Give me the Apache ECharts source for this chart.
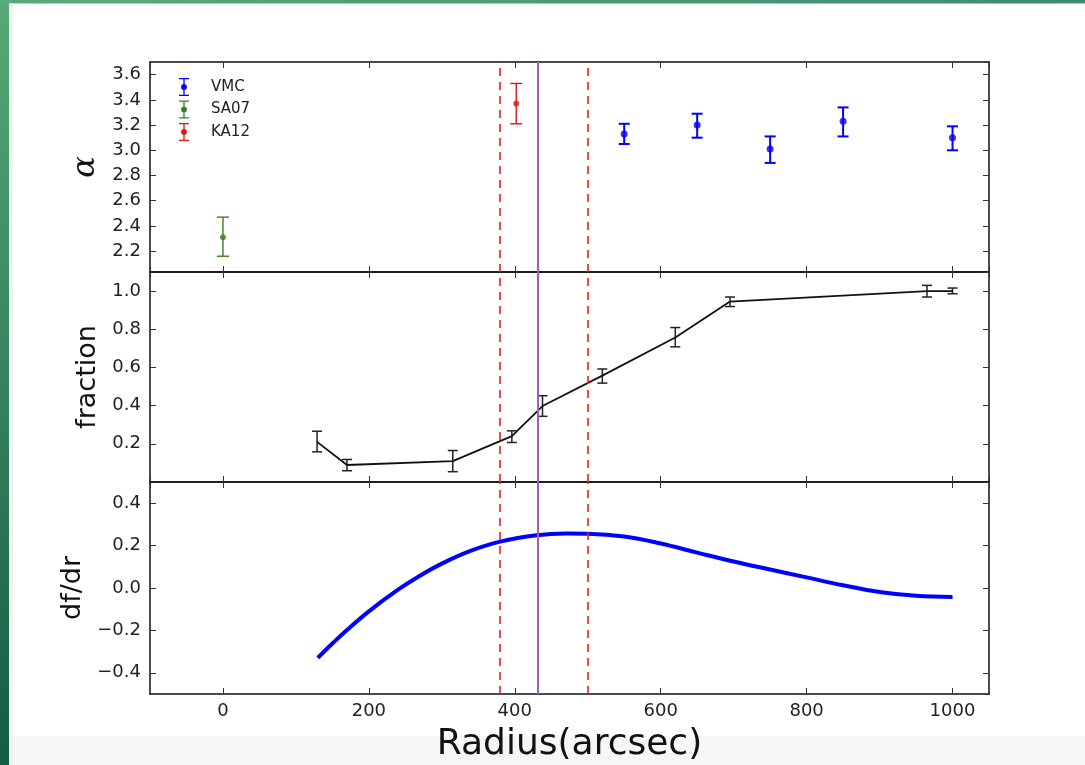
<!DOCTYPE html>
<html>
<head>
<meta charset="utf-8">
<script src="https://cdn.jsdelivr.net/npm/echarts@6/dist/echarts.min.js"></script>
<style>
html, body { margin: 0; padding: 0; background: #fff; }
#chart { width: 1085px; height: 765px; }
</style>
</head>
<body>
<div id="chart"></div>
<script>
// top panel: power-law slope alpha with error bars
var vmcR = [550, 650, 750, 850, 1000];
var vmcAlpha = [3.13, 3.20, 3.01, 3.23, 3.10];
var vmcLow = [3.05, 3.10, 2.90, 3.11, 3.00];
var vmcHigh = [3.21, 3.29, 3.11, 3.34, 3.19];

var sa07R = [0];
var sa07Alpha = [2.31];
var sa07Low = [2.16];
var sa07High = [2.47];

var ka12R = [402];
var ka12Alpha = [3.37];
var ka12Low = [3.21];
var ka12High = [3.53];

// middle panel: fraction
var fracR = [129, 170, 315, 396, 438, 520, 620, 695, 965, 1000];
var frac = [0.21, 0.089, 0.109, 0.24, 0.398, 0.557, 0.757, 0.945, 1.0, 1.0];
var fracLow = [0.158, 0.059, 0.054, 0.207, 0.344, 0.518, 0.708, 0.919, 0.969, 0.986];
var fracHigh = [0.266, 0.118, 0.165, 0.268, 0.452, 0.592, 0.809, 0.969, 1.03, 1.016];

// bottom panel: df/dr
var curveR = [130, 150, 170, 200, 240, 270, 300, 340, 380, 430, 470, 500, 550, 600, 650, 700, 750, 800, 850, 900, 950, 1000];
var dfdr = [-0.33, -0.262, -0.198, -0.11, -0.008, 0.058, 0.115, 0.176, 0.219, 0.249, 0.257, 0.256, 0.243, 0.21, 0.167, 0.125, 0.087, 0.05, 0.013, -0.019, -0.037, -0.042];

// vertical marker lines
var dashedR = [380, 500];
var centreR = [431];

var FONT = 'DejaVu Sans';

function zip(a, b) {
    return a.map(function (v, i) { return [v, b[i]]; });
}
function zip3(a, b, c) {
    return a.map(function (v, i) { return [v, b[i], c[i]]; });
}

function errorBars(color, width, cap) {
    return function (params, api) {
        var x = api.value(0);
        var lo = api.coord([x, api.value(1)]);
        var hi = api.coord([x, api.value(2)]);
        function st() { return { stroke: color, lineWidth: width }; }
        return {
            type: 'group',
            children: [
                { type: 'line', shape: { x1: lo[0], y1: lo[1], x2: hi[0], y2: hi[1] }, style: st() },
                { type: 'line', shape: { x1: hi[0] - cap, y1: hi[1], x2: hi[0] + cap, y2: hi[1] }, style: st() },
                { type: 'line', shape: { x1: lo[0] - cap, y1: lo[1], x2: lo[0] + cap, y2: lo[1] }, style: st() }
            ]
        };
    };
}

function vLines() {
    var d = dashedR.map(function (r) {
        return { xAxis: r, lineStyle: { color: '#e8201e', type: [8, 6], width: 1.6 } };
    });
    centreR.forEach(function (r) {
        d.push({ xAxis: r, lineStyle: { color: '#a05cc4', type: 'solid', width: 2 } });
    });
    return { silent: true, symbol: ['none', 'none'], label: { show: false }, animation: false, data: d };
}

function fmtY(v) {
    return v.toFixed(1).replace('-', '\u2212');
}
function fmtX(v) {
    return String(Math.round(v));
}

function xAx(g, pos, labels) {
    return {
        type: 'value', gridIndex: g, position: pos, min: -100, max: 1050, splitNumber: 5,
        splitLine: { show: false },
        axisLine: { onZero: false, lineStyle: { color: '#111', width: 1.5 } },
        axisTick: { inside: true, length: 6, lineStyle: { color: '#333' } },
        axisLabel: { show: labels, showMinLabel: false, showMaxLabel: false, margin: 8,
            fontFamily: FONT, fontSize: 18, color: '#222', formatter: fmtX }
    };
}

function yAx(g, pos, min, max, labels, extra) {
    var ax = {
        type: 'value', gridIndex: g, position: pos, min: min, max: max,
        splitLine: { show: false },
        axisLine: { onZero: false, lineStyle: { color: '#111', width: 1.5 } },
        axisTick: { inside: true, length: 6, lineStyle: { color: '#333' } },
        axisLabel: { show: labels, showMinLabel: false, showMaxLabel: false, margin: 9,
            fontFamily: FONT, fontSize: 18, color: '#222', formatter: fmtY }
    };
    for (var k in extra) ax[k] = extra[k];
    return ax;
}

// legend glyph: error bar with caps and a dot
var errIcon = 'path://M0,0H10V1.3H0Z M4.35,1.3H5.65V16.7H4.35Z M0,16.7H10V18H0Z M2.1,9A2.9,2.9 0 1 1 7.9,9A2.9,2.9 0 1 1 2.1,9Z';

var option = {
    backgroundColor: '#ffffff',
    animation: false,
    graphic: [
        { type: 'rect', z: -1, shape: { x: 0, y: 0, width: 9, height: 765 },
          style: { fill: new echarts.graphic.LinearGradient(0, 0, 0, 1, [
              { offset: 0, color: '#58a976' }, { offset: 1, color: '#135c45' }]) } },
        { type: 'rect', z: -1, shape: { x: 0, y: 0, width: 1085, height: 3.5 },
          style: { fill: new echarts.graphic.LinearGradient(0, 0, 1, 0, [
              { offset: 0, color: '#5aab78' }, { offset: 1, color: '#3a8e6e' }]) } },
        { type: 'rect', z: -1, shape: { x: 9, y: 3.5, width: 4, height: 762 }, style: { fill: '#f1f1f1' } },
        { type: 'rect', z: -1, shape: { x: 13, y: 736, width: 1072, height: 29 }, style: { fill: '#f6f6f6' } }
    ],
    grid: [
        { left: 150, top: 62, width: 839, height: 210 },
        { left: 150, top: 272, width: 839, height: 210 },
        { left: 150, top: 482, width: 839, height: 212 }
    ],
    legend: {
        orient: 'vertical', left: 174, top: 73,
        itemWidth: 10, itemHeight: 18, itemGap: 4.5,
        textStyle: { fontFamily: FONT, fontSize: 15, color: '#222', padding: [0, 0, 0, 17] },
        data: [
            { name: 'VMC', icon: errIcon },
            { name: 'SA07', icon: errIcon },
            { name: 'KA12', icon: errIcon }
        ]
    },
    xAxis: [
        xAx(0, 'bottom', false),
        xAx(1, 'bottom', false),
        (function () {
            var a = xAx(2, 'bottom', true);
            a.name = 'Radius(arcsec)';
            a.nameLocation = 'middle';
            a.nameGap = 33;
            a.nameTextStyle = { fontFamily: FONT, fontSize: 36, color: '#111' };
            return a;
        })(),
        xAx(0, 'top', false),
        xAx(1, 'top', false),
        xAx(2, 'top', false)
    ],
    yAxis: [
        yAx(0, 'left', 2.035, 3.7, true, {
            splitNumber: 8, name: '\u03B1', nameLocation: 'middle', nameGap: 48, nameRotate: 90,
            nameTextStyle: { fontFamily: 'DejaVu Serif', fontStyle: 'italic', fontSize: 32, color: '#111' }
        }),
        yAx(1, 'left', 0, 1.1, true, {
            interval: 0.2, name: 'fraction', nameLocation: 'middle', nameGap: 47, nameRotate: 90,
            nameTextStyle: { fontFamily: FONT, fontSize: 27, color: '#111' }
        }),
        yAx(2, 'left', -0.5, 0.5, true, {
            splitNumber: 5, name: 'df/dr', nameLocation: 'middle', nameGap: 61, nameRotate: 90,
            nameTextStyle: { fontFamily: FONT, fontSize: 27, color: '#111' }
        }),
        yAx(0, 'right', 2.035, 3.7, false, { splitNumber: 8 }),
        yAx(1, 'right', 0, 1.1, false, { interval: 0.2 }),
        yAx(2, 'right', -0.5, 0.5, false, { splitNumber: 5 })
    ],
    series: [
        // top panel
        { type: 'custom', name: 'VMC', xAxisIndex: 0, yAxisIndex: 0, silent: true, z: 3,
          itemStyle: { color: '#0000ff' }, encode: { x: 0, y: [1, 2] },
          renderItem: errorBars('#0000ff', 2, 5.5), data: zip3(vmcR, vmcLow, vmcHigh) },
        { type: 'custom', name: 'SA07', xAxisIndex: 0, yAxisIndex: 0, silent: true, z: 3,
          itemStyle: { color: '#3b7d22' }, encode: { x: 0, y: [1, 2] },
          renderItem: errorBars('#3b7d22', 1.4, 6), data: zip3(sa07R, sa07Low, sa07High) },
        { type: 'custom', name: 'KA12', xAxisIndex: 0, yAxisIndex: 0, silent: true, z: 3,
          itemStyle: { color: '#e01414' }, encode: { x: 0, y: [1, 2] },
          renderItem: errorBars('#e01414', 1.4, 6), data: zip3(ka12R, ka12Low, ka12High) },
        { type: 'scatter', name: 'VMC', xAxisIndex: 0, yAxisIndex: 0, z: 4, symbolSize: 7,
          itemStyle: { color: '#0000ff' }, data: zip(vmcR, vmcAlpha), markLine: vLines() },
        { type: 'scatter', name: 'SA07', xAxisIndex: 0, yAxisIndex: 0, z: 4, symbolSize: 6,
          itemStyle: { color: '#3b7d22' }, data: zip(sa07R, sa07Alpha) },
        { type: 'scatter', name: 'KA12', xAxisIndex: 0, yAxisIndex: 0, z: 4, symbolSize: 6,
          itemStyle: { color: '#e01414' }, data: zip(ka12R, ka12Alpha) },

        // middle panel
        { type: 'line', name: 'fraction', xAxisIndex: 1, yAxisIndex: 1, showSymbol: false, symbol: 'none',
          lineStyle: { color: '#111', width: 1.8 }, data: zip(fracR, frac), markLine: vLines() },
        { type: 'custom', name: 'fraction err', xAxisIndex: 1, yAxisIndex: 1, silent: true, z: 3,
          encode: { x: 0, y: [1, 2] }, renderItem: errorBars('#222', 1.5, 5),
          data: zip3(fracR, fracLow, fracHigh) },

        // bottom panel
        { type: 'line', name: 'df/dr', xAxisIndex: 2, yAxisIndex: 2, showSymbol: false, symbol: 'none',
          smooth: 0.4, lineStyle: { color: '#0000ff', width: 4, cap: 'butt' },
          data: zip(curveR, dfdr), markLine: vLines() }
    ]
};

var myChart = echarts.init(document.getElementById('chart'));
myChart.setOption(option);
</script>
</body>
</html>
